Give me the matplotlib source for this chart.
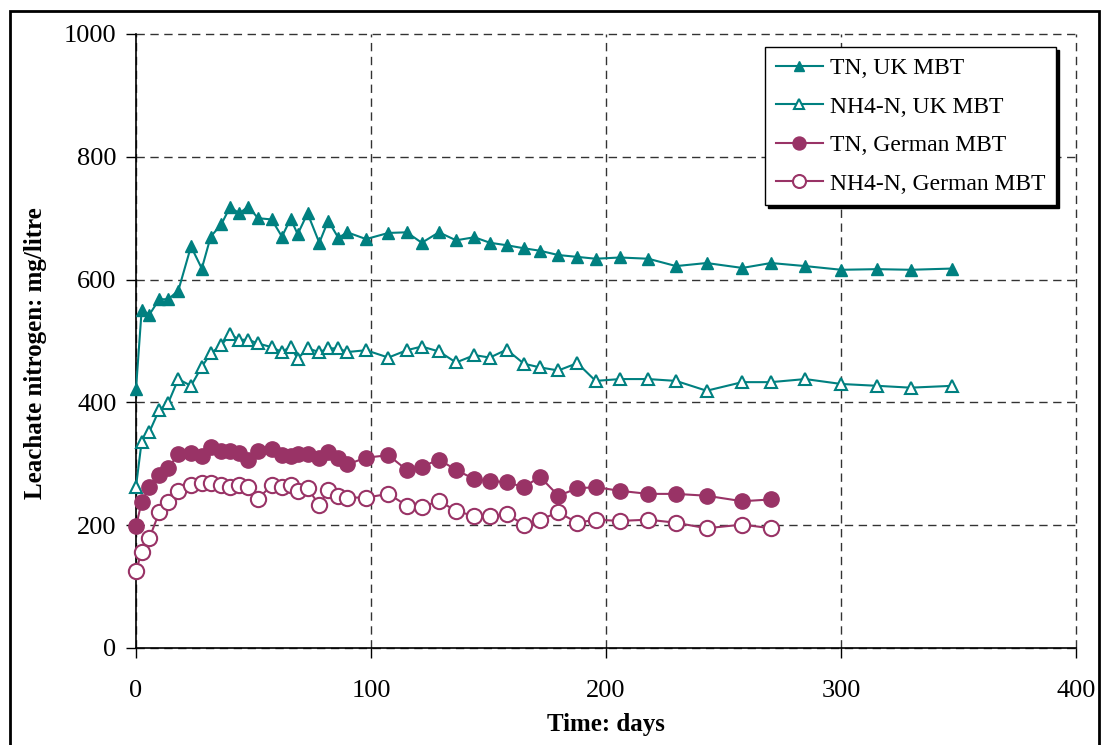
import numpy as np
import matplotlib.pyplot as plt
from matplotlib.patches import Rectangle

plt.rcParams['font.family'] = ['Liberation Serif', 'DejaVu Serif']

# sampling days (UK series run the full length, German series stop at 270)
days_uk = [0, 2.4, 5.7, 9.9, 13.7, 18, 23.4, 28, 31.8, 36.3, 40, 44, 47.8, 51.9,
           57.7, 62.1, 65.8, 68.8, 73, 78, 81.8, 86.1, 89.9, 97.9, 107.4, 115.2,
           121.6, 128.9, 136.2, 144, 150.6, 157.7, 165.1, 171.9, 179.7, 187.8,
           195.6, 205.9, 218, 229.8, 242.8, 258, 270.2, 284.8, 300.1, 315.4,
           329.6, 347.4]
days_de = days_uk[:43]

tn_uk = [422, 550, 543, 568, 568, 582, 654, 618, 670, 690, 718, 708, 719, 700,
         698, 670, 699, 674, 708, 660, 696, 668, 677, 666, 676, 677,
         660, 677, 664, 669, 660, 656, 651, 647, 640, 637,
         634, 636, 634, 622, 627, 619, 627, 622, 616, 617,
         616, 618]

nh4_uk = [263, 336, 352, 388, 399, 438, 427, 458, 480, 493, 511, 502, 502, 496,
          490, 482, 491, 471, 488, 482, 488, 488, 482, 485, 473, 485,
          491, 483, 465, 477, 473, 486, 463, 457, 452, 464,
          435, 438, 438, 435, 419, 433, 433, 438, 430, 427,
          424, 427]

tn_de = [198, 238, 262, 282, 293, 316, 318, 312, 328, 321, 321, 318, 306, 321,
         324, 314, 313, 316, 316, 309, 320, 309, 299, 310, 314, 290,
         295, 307, 290, 275, 272, 270, 262, 279, 248, 260,
         262, 256, 251, 251, 248, 239, 242]

nh4_de = [126, 156, 179, 221, 237, 256, 265, 268, 268, 265, 262, 265, 262, 243,
          265, 263, 265, 255, 260, 233, 257, 248, 245, 245, 251, 232,
          229, 240, 223, 215, 215, 218, 201, 209, 221, 204,
          209, 207, 209, 204, 195, 201, 195]

teal = '#008080'
plum = '#993366'

fig = plt.figure(figsize=(11.01, 7.45), dpi=100)
ax = fig.add_axes([136 / 1101, 1 - 648 / 745, 940 / 1101, 614 / 745])

ax.plot(days_uk, tn_uk, color=teal, lw=1.5, marker='^', ms=9,
        mfc=teal, mec=teal, label='TN, UK MBT', zorder=3, clip_on=False)
ax.plot(days_uk, nh4_uk, color=teal, lw=1.5, marker='^', ms=9,
        mfc='white', mec=teal, mew=1.5, label='NH4-N, UK MBT', zorder=3,
        clip_on=False)
ax.plot(days_de, tn_de, color=plum, lw=1.5, marker='o', ms=11,
        mfc=plum, mec=plum, label='TN, German MBT', zorder=3, clip_on=False)
ax.plot(days_de, nh4_de, color=plum, lw=1.5, marker='o', ms=11,
        mfc='white', mec=plum, mew=1.5, label='NH4-N, German MBT', zorder=3,
        clip_on=False)

ax.set_xlim(0, 400)
ax.set_ylim(0, 1000)
ax.set_xticks([0, 100, 200, 300, 400])
ax.set_yticks([0, 200, 400, 600, 800, 1000])
ax.grid(True, color='#333333', linestyle=(0, (6, 4)), linewidth=1)
for gl in ax.get_xgridlines() + ax.get_ygridlines():
    gl.set_clip_on(False)
ax.spines['top'].set_visible(False)
ax.spines['right'].set_visible(False)
ax.spines['left'].set_linewidth(1.2)
ax.spines['bottom'].set_linewidth(1.2)
ax.tick_params(direction='out', length=7, width=1, labelsize=19)
ax.tick_params(axis='y', pad=7)
ax.tick_params(axis='x', pad=16)
ax.set_axisbelow(True)

ax.set_xlabel('Time: days', fontsize=18, fontweight='bold', labelpad=8)
ax.set_ylabel('Leachate nitrogen: mg/litre', fontsize=18, fontweight='bold',
              labelpad=12, y=0.48)

leg = ax.legend(loc='upper right', bbox_to_anchor=(1056 / 1101, 1 - 47 / 745),
                bbox_transform=fig.transFigure, borderaxespad=0, fontsize=17,
                frameon=True, fancybox=False, markerscale=0.85,
                shadow={'color': 'black', 'alpha': 1}, edgecolor='black',
                handlelength=2.0, labelspacing=0.72, borderpad=0.45,
                handletextpad=0.3)
leg.get_frame().set_linewidth(1)
leg.get_frame().set_alpha(1)

fig.patches.append(Rectangle((10 / 1101, -0.01), 1089 / 1101, 1 - 11 / 745 + 0.01,
                             transform=fig.transFigure, fill=False,
                             edgecolor='black', linewidth=2))

fig.savefig('out.png', dpi=100)
